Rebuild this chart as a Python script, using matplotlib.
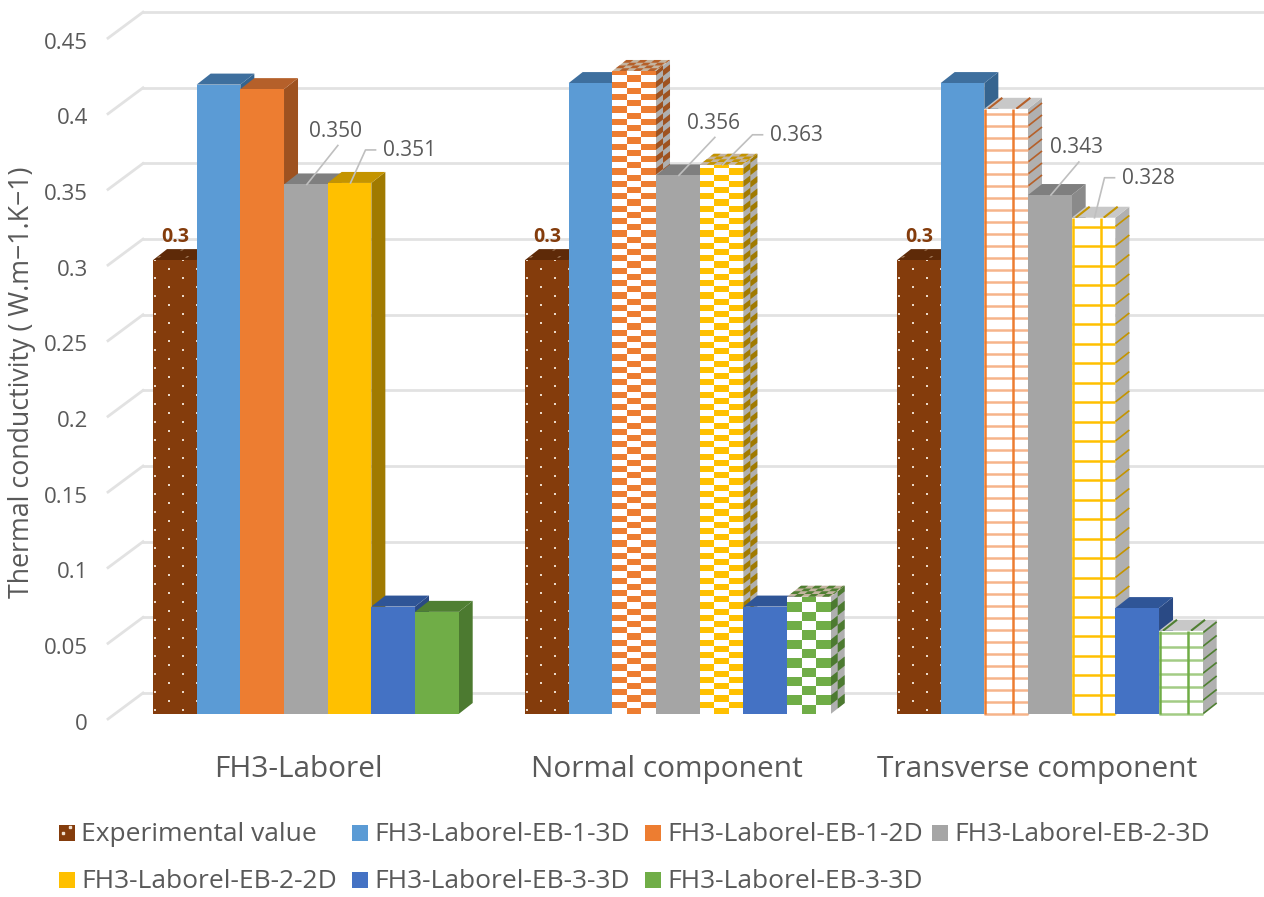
import numpy as np
import matplotlib
matplotlib.use("Agg")
import matplotlib.pyplot as plt
from matplotlib.patches import Polygon, Rectangle

plt.rcParams["font.family"] = ["Open Sans", "DejaVu Sans"]

groups = ["FH3-Laborel", "Normal component", "Transverse component"]
series = ["Experimental value", "FH3-Laborel-EB-1-3D", "FH3-Laborel-EB-1-2D",
          "FH3-Laborel-EB-2-3D", "FH3-Laborel-EB-2-2D", "FH3-Laborel-EB-3-3D",
          "FH3-Laborel-EB-3-3D"]
experimental = [0.3, 0.3, 0.3]
eb1_3d = [0.416, 0.417, 0.417]
eb1_2d = [0.413, 0.425, 0.4]
eb2_3d = [0.350, 0.356, 0.343]
eb2_2d = [0.351, 0.363, 0.328]
eb3_3d = [0.071, 0.071, 0.07]
eb3_2d = [0.0675, 0.0775, 0.055]
values = [eb1_3d, eb1_2d, eb2_3d, eb2_2d, eb3_3d, eb3_2d]
ticks = [0, 0.05, 0.1, 0.15, 0.2, 0.25, 0.3, 0.35, 0.4, 0.45]
tick_labels = ["0", "0.05", "0.1", "0.15", "0.2", "0.25", "0.3", "0.35", "0.4", "0.45"]

# front, top, side colours of each series
colors = ["#843C0C", "#5B9BD5", "#ED7D31", "#A5A5A5", "#FFC000", "#4472C4", "#70AD47"]
tops = ["#5E2A08", "#3E6F9E", "#B5602A", "#7F7F7F", "#C49400", "#2F5597", "#4F7F32"]
sides = ["#5E2A08", "#35648F", "#9E5220", "#8A8A8A", "#A07A00", "#2A4A85", "#4C7A30"]
soft = ["#843C0C", "#5B9BD5", "#F6B48A", "#A5A5A5", "#FFC000", "#4472C4", "#A3CC85"]

text_gray = "#595959"
grid_gray = "#E2E2E2"

# one px on screen in data units
PX = 1 / 372
PY = 1 / 1513
BAR = 43.67
DEPTH = 14
RISE = 11


def xpos(p):
    return (p - 284) * PX


fig = plt.figure(figsize=(12.64, 8.97), dpi=100)
ax = fig.add_axes([0, 0, 1, 1])
ax.set_xlim(xpos(0), xpos(1264))
ax.set_ylim(-(897 - 714) * PY, 714 * PY)
ax.axis("off")

z = 5


def face(x0, y0, u, v, w, h, base, cells=None, cell_color=None, lines=None, line_color=None, lw=1.5):
    # draws one flat face, s and t run in px along u and v
    global z
    z += 1

    def pt(s, t):
        return (x0 + u[0] * s + v[0] * t, y0 + u[1] * s + v[1] * t)

    ax.add_patch(Polygon([pt(0, 0), pt(w, 0), pt(w, h), pt(0, h)], fc=base, ec="none", zorder=z))
    if cells:
        for s0, s1, t0, t1 in cells:
            s0, s1 = max(s0, 0), min(s1, w)
            t0, t1 = max(t0, 0), min(t1, h)
            if s1 > s0 and t1 > t0:
                ax.add_patch(Polygon([pt(s0, t0), pt(s1, t0), pt(s1, t1), pt(s0, t1)],
                                     fc=cell_color, ec="none", zorder=z))
    if lines:
        for (a, b), col in zip(lines, line_color):
            ax.plot(*zip(pt(*a), pt(*b)), color=col, lw=lw, zorder=z, solid_capstyle="butt")


def checker(w, h, cw, ch):
    out = []
    for i in range(int(w / cw) + 2):
        for j in range(int(h / ch) + 2):
            if (i + j) % 2 == 1:
                out.append((i * cw, (i + 1) * cw, j * ch, (j + 1) * ch))
    return out


def dots(w, h):
    out = []
    for j in range(int(h / 9) + 1):
        for i in range(3):
            s = i * 28 + (14 if j % 2 else 0) + 1
            out.append((s, s + 2.2, j * 9 + 3, j * 9 + 5.2))
    return out


def grid_lines(w, h, dy, verts):
    out = [((0, j * dy), (w, j * dy)) for j in range(int(h / dy) + 1)]
    n = len(out)
    out += [((s, 0), (s, h)) for s in verts]
    return out, n


def draw_bar(x, val, k, style, spacing=None):
    H = val / PY
    front_u = (PX, 0)
    up = (0, PY)
    slant = (PX, RISE / DEPTH * PY)
    xr = x + BAR * PX
    if style == "solid":
        face(xr, 0, slant, up, DEPTH, H, sides[k])
        face(x, val, front_u, slant, BAR, DEPTH, tops[k])
        face(x, 0, front_u, up, BAR, H, colors[k])
    elif style == "dots":
        face(xr, 0, slant, up, DEPTH, H, sides[k])
        face(x, val, front_u, slant, BAR, DEPTH, tops[k], dots(BAR, DEPTH), "#A07858")
        face(x, 0, front_u, up, BAR, H, colors[k], dots(BAR, H), "#EAD8C8")
    elif style == "check":
        face(xr, 0, slant, up, DEPTH, H, "#AFAFAF", checker(DEPTH, H, 7, spacing), sides[k])
        face(x, val, front_u, slant, BAR, DEPTH, "#C4B4A0", checker(BAR, DEPTH, 7, 3.5), tops[k])
        face(x, 0, front_u, up, BAR, H, "white", checker(BAR, H, 14.5, spacing), colors[k])
    elif style == "grid":
        side, n = grid_lines(DEPTH, H, spacing, [])
        face(xr, 0, slant, up, DEPTH, H, "#B0B0B0", lines=side, line_color=[tops[k]] * n, lw=1.2)
        face(x, val, front_u, slant, BAR, DEPTH, "#C8C8C8",
             lines=[((4, 0), (4, DEPTH)), ((32, 0), (32, DEPTH))], line_color=[tops[k]] * 2, lw=1.5)
        front, n = grid_lines(BAR, H, spacing, [1, 29])
        face(x, 0, front_u, up, BAR, H, "white", lines=front,
             line_color=[soft[k]] * n + [colors[k]] * 2, lw=1.8)


# back wall gridlines and left wall
for t, lab in zip(ticks, tick_labels):
    back = t + 21 * PY
    ax.plot([xpos(143), xpos(1264)], [back, back], color=grid_gray, lw=2, zorder=1)
    ax.plot([xpos(108), xpos(143)], [t - 5 * PY, back], color=grid_gray, lw=2, zorder=1)
    ax.text(xpos(88), t - 10 * PY, lab, ha="right", va="center", fontsize=16, color=text_gray)

group_left = [153, 525, 897]
styles = [["solid"] * 6,
          ["solid", "check", "solid", "check", "solid", "check"],
          ["solid", "grid", "solid", "grid", "solid", "grid"]]
spacings = [[None] * 6,
            [None, 6.2, None, 6.2, None, 9.3],
            [None, 12, None, 19.5, None, 13.5]]

for g in range(3):
    x0 = xpos(group_left[g])
    draw_bar(x0, experimental[g], 0, "dots")
    for i in range(6):
        draw_bar(x0 + (i + 1) * BAR * PX, values[i][g], i + 1, styles[g][i], spacings[g][i])
    ax.text(x0 + 22 * PX, experimental[g] + 23 * PY, "0.3", ha="center", va="center",
            fontsize=14, fontweight="bold", color="#843C0C", zorder=500)

# value labels with leader lines, offsets are px from the bar top
gray_off = [(31, 39, 29, 53), (36, 38, 35, 52), (28, 33, 26, 48)]
yellow_off = [(15, 33), (30, 30), (10, 40)]
for g in range(3):
    x0 = xpos(group_left[g])
    gx = x0 + 3.5 * BAR * PX
    yx = x0 + 4.5 * BAR * PX
    v = eb2_3d[g]
    a, b, c, d = gray_off[g]
    sx = gx + 1 * PX
    ax.plot([sx, sx + a * PX], [v, v + b * PY], color="#BFBFBF", lw=1.2, zorder=500)
    ax.text(sx + c * PX, v + d * PY, "%.3f" % v, ha="center", va="center",
            fontsize=15, color=text_gray, zorder=500)
    v = eb2_2d[g]
    a, b = yellow_off[g]
    sx = yx + 1 * PX
    ax.plot([sx, sx + a * PX, sx + (a + 10) * PX], [v, v + b * PY, v + b * PY],
            color="#BFBFBF", lw=1.2, zorder=500)
    ax.text(sx + (a + 44) * PX, v + (b - 1) * PY, "%.3f" % v, ha="center", va="center",
            fontsize=15, color=text_gray, zorder=500)

for g, name in enumerate(groups):
    ax.text(xpos([298, 667, 1037][g]), -55 * PY, name, ha="center", va="center",
            fontsize=21.5, color=text_gray)

ax.text(xpos(22), (714 - 382) * PY, "Thermal conductivity ( W.m\u22121.K\u22121)", rotation=90,
        ha="center", va="center", fontsize=19.3, color=text_gray)

# legend, laid out by hand like the original
leg_x = [59, 352, 645, 932, 59, 352, 645]
leg_y = [833, 833, 833, 833, 880, 880, 880]
for k, name in enumerate(series):
    xx, yy = xpos(leg_x[k]), (714 - leg_y[k]) * PY
    ax.add_patch(Rectangle((xx, yy - 8 * PY), 16 * PX, 16 * PY, fc=colors[k], ec="none"))
    if k == 0:
        ax.plot([xx + 4 * PX, xx + 11 * PX], [yy, yy + 6 * PY], ls="none", marker="s", ms=1.5, color="#F0E0D0")
    ax.text(xx + 22 * PX, yy - 1 * PY, name, ha="left", va="center", fontsize=19, color=text_gray)

fig.savefig("out.png", dpi=100)
